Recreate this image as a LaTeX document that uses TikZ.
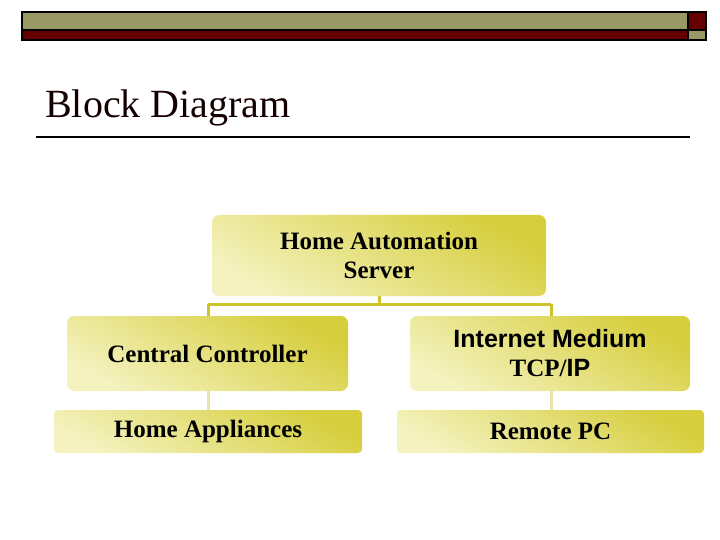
\documentclass[tikz,border=0pt]{standalone}
\usepackage{fontspec}
\setmainfont{Liberation Serif}
\newfontfamily\sansbf{Liberation Sans}
\definecolor{olivebar}{RGB}{153,153,102}
\definecolor{darkred}{RGB}{102,0,0}
\definecolor{boxlight}{RGB}{244,242,190}
\definecolor{boxdark}{RGB}{214,206,60}
\definecolor{linkcol}{RGB}{204,196,40}
\definecolor{linklight}{RGB}{232,228,170}
\tikzset{
  block/.style={rounded corners=7pt, shading=axis, top color=boxlight, bottom color=boxdark, shading angle=150,
    font=\fontsize{25}{29}\selectfont\bfseries, align=center, inner sep=0pt},
  link/.style={linkcol, line width=3pt},
  sublink/.style={linklight, line width=3pt}
}
\begin{document}
\begin{tikzpicture}[x=1pt,y=-1pt]
  \useasboundingbox (0,0) rectangle (720,540);
  % header bar
  \filldraw[fill=olivebar,line width=1.5pt] (22,12) rectangle (688,30);
  \filldraw[fill=darkred,line width=1.5pt] (22,30) rectangle (688,40);
  \filldraw[fill=darkred,line width=1.5pt] (688,12) rectangle (706,30);
  \filldraw[fill=olivebar,line width=1.5pt] (688,30) rectangle (706,40);
  % title
  \node[anchor=base west, inner sep=0pt, font=\fontsize{40}{44}\selectfont, text=black!80!darkred] (title) at (45,118) {Block Diagram};
  \draw[line width=1.2pt] (36,137) -- (690,137);

  % connectors
  \coordinate (top) at (379,296);
  \coordinate (mid) at (379,304);
  \coordinate (midL) at (208,304);
  \coordinate (midR) at (551,304);
  \draw[link] (top) -- (mid);
  \draw[link] (midL) -- (midR);
  \draw[link] (midL) -- (208,316);
  \draw[link] (midR) -- (551,316);
  \draw[sublink] (208,391) -- (208,410);
  \draw[sublink] (551,391) -- (551,410);

  % blocks
  \node[block, minimum width=334pt, minimum height=81pt] (server) at (379,255.5) {Home Automation\\Server};
  \node[block, minimum width=281pt, minimum height=75pt] (ctrl) at (207.5,353.5) {Central Controller};
  \node[block, minimum width=280pt, minimum height=75pt] (net) at (550,353.5) {{\sansbf Internet Medium}\\TCP/{\sansbf IP}};
  \node[block, rounded corners=4pt, minimum width=308pt, minimum height=43pt] (appl) at (208,431.5) {Home Appliances};
  \node[block, rounded corners=4pt, minimum width=307pt, minimum height=43pt] (pc) at (550.5,431.5) {Remote PC};
\end{tikzpicture}
\end{document}
